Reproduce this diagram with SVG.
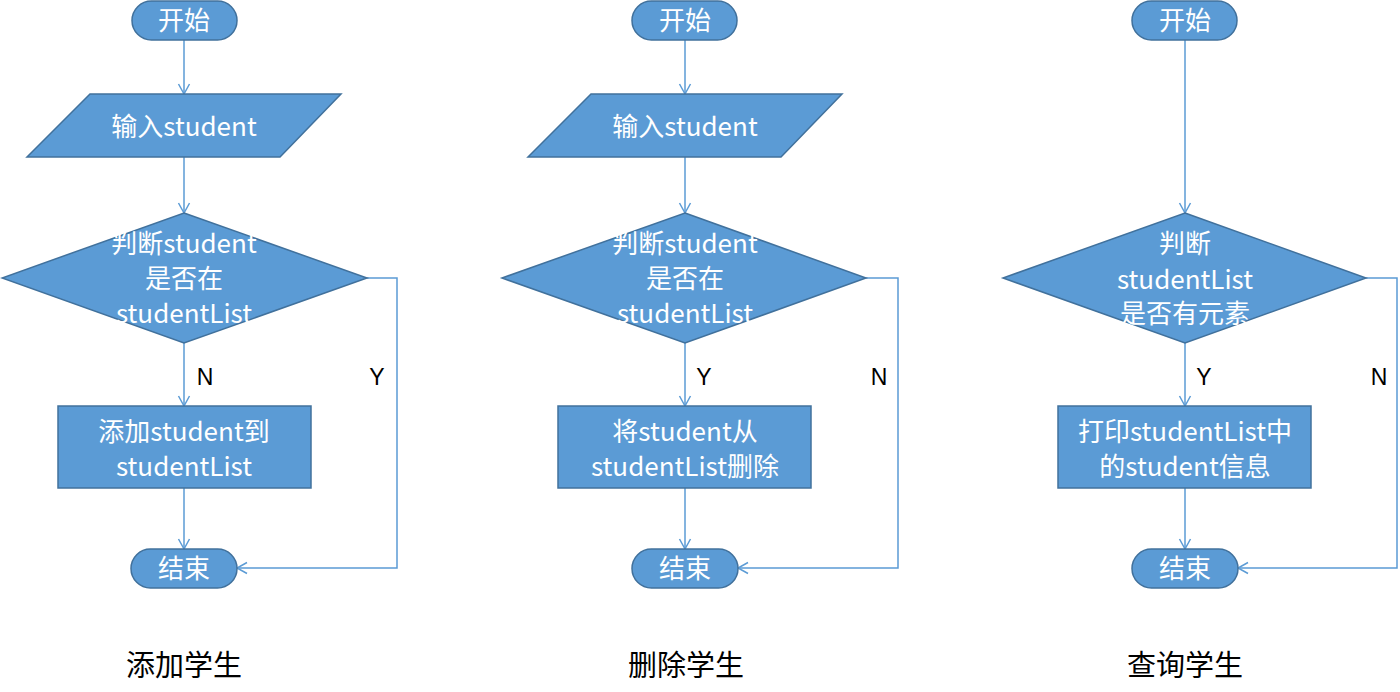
<svg xmlns="http://www.w3.org/2000/svg" width="1400" height="692" viewBox="0 0 1400 692">
<defs>
<marker id="arr" markerUnits="userSpaceOnUse" markerWidth="14" markerHeight="14" refX="11" refY="7" orient="auto">
<path d="M1,1.5 L11,7 L1,12.5" fill="none" stroke="#5b9bd5" stroke-width="1.5"/>
</marker>
<style>
.shape{fill:#5b9bd5;stroke:#41719c;stroke-width:1.5}
.t{fill:#ffffff;font-family:"Noto Sans CJK SC","Noto Sans",sans-serif;font-size:26px;text-anchor:middle;dominant-baseline:central}
.lbl{fill:#000000;font-family:"Liberation Sans",Arial,sans-serif;font-size:23px;text-anchor:middle;dominant-baseline:central}
.cap{fill:#000000;font-family:"Liberation Serif","Noto Sans CJK SC",serif;font-size:29px;text-anchor:middle;dominant-baseline:central}
.c{fill:none;stroke:#5b9bd5;stroke-width:1.5;marker-end:url(#arr)}
</style>
</defs>
<rect width="1400" height="692" fill="#ffffff"/>
<g id="connectors">
<line class="c" x1="184" y1="40" x2="184" y2="94"/>
<line class="c" x1="184" y1="157" x2="184" y2="213"/>
<line class="c" x1="184" y1="343" x2="184" y2="406"/>
<line class="c" x1="184" y1="488" x2="184" y2="549"/>
<polyline class="c" points="367,278 397,278 397,568 237,568"/>
<line class="c" x1="685" y1="40" x2="685" y2="94"/>
<line class="c" x1="685" y1="157" x2="685" y2="213"/>
<line class="c" x1="685" y1="343" x2="685" y2="406"/>
<line class="c" x1="685" y1="488" x2="685" y2="549"/>
<polyline class="c" points="866,278 898,278 898,568 738,568"/>
<line class="c" x1="1185" y1="40" x2="1185" y2="213"/>
<line class="c" x1="1185" y1="343" x2="1185" y2="406"/>
<line class="c" x1="1185" y1="488" x2="1185" y2="549"/>
<polyline class="c" points="1366,278 1397,278 1397,568 1238,568"/>
</g>
<g id="labels">
<text class="lbl" x="205" y="377">N</text>
<text class="lbl" x="377" y="377">Y</text>
<text class="lbl" x="704" y="377">Y</text>
<text class="lbl" x="879" y="377">N</text>
<text class="lbl" x="1204" y="377">Y</text>
<text class="lbl" x="1379" y="377">N</text>
</g>
<g id="start1"><rect class="shape" x="132" y="1" width="105" height="39" rx="19.5"/><text class="t" x="184" y="18">开始</text></g>
<g id="input1"><polygon class="shape" points="90,94 341,94 280,157 27,157"/><text class="t" x="184" y="124">输入student</text></g>
<g id="decision1"><polygon class="shape" points="184,213 367,278 184,343 2,278"/><text class="t" x="184" y="241">判断student</text><text class="t" x="184" y="276">是否在</text><text class="t" x="184" y="311">studentList</text></g>
<g id="process1"><rect class="shape" x="58" y="406" width="253" height="82"/><text class="t" x="184" y="429">添加student到</text><text class="t" x="184" y="464">studentList</text></g>
<g id="end1"><rect class="shape" x="131" y="549" width="106" height="39" rx="19.5"/><text class="t" x="184" y="566">结束</text></g>
<g id="start2"><rect class="shape" x="632" y="1" width="105" height="39" rx="19.5"/><text class="t" x="685" y="18">开始</text></g>
<g id="input2"><polygon class="shape" points="591,94 842,94 781,157 528,157"/><text class="t" x="685" y="124">输入student</text></g>
<g id="decision2"><polygon class="shape" points="685,213 866,278 685,343 502,278"/><text class="t" x="685" y="241">判断student</text><text class="t" x="685" y="276">是否在</text><text class="t" x="685" y="311">studentList</text></g>
<g id="process2"><rect class="shape" x="558" y="406" width="253" height="82"/><text class="t" x="685" y="429">将student从</text><text class="t" x="685" y="464">studentList删除</text></g>
<g id="end2"><rect class="shape" x="632" y="549" width="106" height="39" rx="19.5"/><text class="t" x="685" y="566">结束</text></g>
<g id="start3"><rect class="shape" x="1132" y="1" width="105" height="39" rx="19.5"/><text class="t" x="1185" y="18">开始</text></g>
<g id="decision3"><polygon class="shape" points="1185,213 1366,278 1185,343 1003,278"/><text class="t" x="1185" y="241">判断</text><text class="t" x="1185" y="277">studentList</text><text class="t" x="1185" y="311">是否有元素</text></g>
<g id="process3"><rect class="shape" x="1058" y="406" width="253" height="82"/><text class="t" x="1185" y="429">打印studentList中</text><text class="t" x="1185" y="464">的student信息</text></g>
<g id="end3"><rect class="shape" x="1132" y="549" width="106" height="39" rx="19.5"/><text class="t" x="1185" y="566">结束</text></g>
<g id="captions">
<text class="cap" x="184" y="666">添加学生</text>
<text class="cap" x="686" y="666">删除学生</text>
<text class="cap" x="1185" y="666">查询学生</text>
</g>
</svg>
